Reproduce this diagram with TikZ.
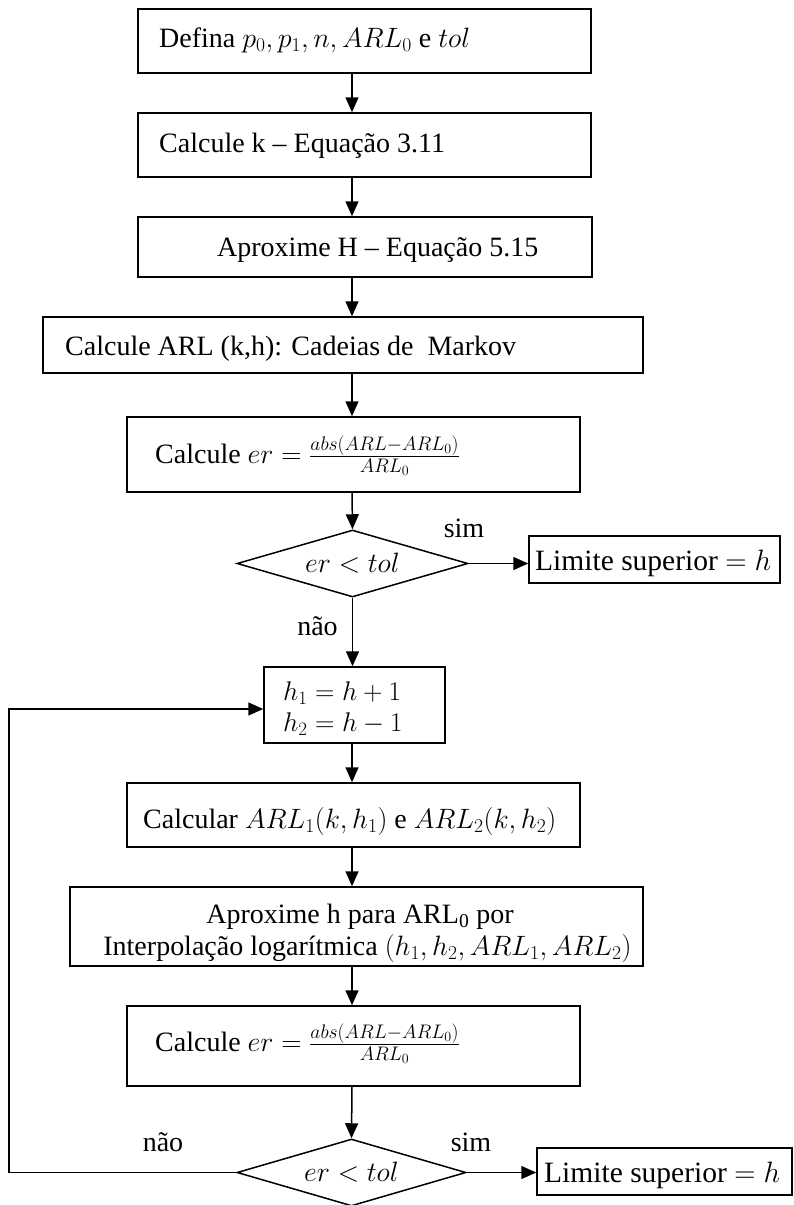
\RequirePackage{fix-cm}
\documentclass[tikz,border=0pt]{standalone}
\usepackage{fontspec}
\setmainfont{Liberation Serif}
\usetikzlibrary{arrows.meta,shapes.geometric}
\begin{document}
\begin{tikzpicture}[x=1pt,y=-1pt,
  box/.style={draw, line width=1.5pt, inner sep=0pt, rectangle},
  dec/.style={draw, line width=1.5pt, inner sep=0pt, diamond, shape aspect=3.4,
    font=\fontsize{28}{34}\selectfont},
  txt/.style={inner sep=0pt, font=\fontsize{28}{34}\selectfont, anchor=base west},
  lbl/.style={inner sep=0pt, font=\fontsize{28}{34}\selectfont},
  limtxt/.style={inner sep=0pt, font=\fontsize{29.5}{36}\selectfont, anchor=base west},
  arr/.style={line width=1.5pt, -{Triangle[length=15pt,width=13pt]}}]
\useasboundingbox (0,0) rectangle (793,1205);
\coordinate (ax) at (352,0);
\coordinate (lx) at (9,0);
% boxes
\node[box, minimum width=453pt, minimum height=64pt] (b1) at (364.5,41) {};
\node[box, minimum width=453pt, minimum height=64pt] (b2) at (364.5,145) {};
\node[box, minimum width=454pt, minimum height=60pt] (b3) at (365,247) {};
\node[box, minimum width=600pt, minimum height=56pt] (b4) at (343,345) {};
\node[box, minimum width=453pt, minimum height=75pt] (b5) at (353.5,454.5) {};
\node[dec, minimum width=231pt, minimum height=67pt] (d1) at (352.5,563.5) {$er<tol$};
\node[box, minimum width=251pt, minimum height=47pt] (L1) at (654.5,559.5) {};
\node[box, minimum width=181pt, minimum height=76pt] (hb) at (354.5,705) {};
\node[box, minimum width=453pt, minimum height=64pt] (b6) at (353.5,815) {};
\node[box, minimum width=573pt, minimum height=79pt] (b7) at (356.5,926.5) {};
\node[box, minimum width=453pt, minimum height=80pt] (b8) at (353.5,1046) {};
\node[dec, minimum width=229pt, minimum height=67pt] (d2) at (351.5,1172.5) {$er<tol$};
\node[box, minimum width=255pt, minimum height=47pt] (L2) at (664.5,1171.5) {};
% texts
\node[txt] (t1) at (159,47) {Defina $p_0, p_1, n, ARL_0$ e $tol$};
\node[txt] (t2) at (159,152) {Calcule k -- Equação 3.11};
\node[txt] (t3) at (217,256) {Aproxime H -- Equação 5.15};
\node[txt] (t4) at (65,355) {Calcule ARL (k,h): Cadeias de\ \ Markov};
\node[txt] (t5) at (155,463) {Calcule $er=\frac{abs(ARL-ARL_0)}{ARL_0}$};
\node[limtxt] (t6) at (535,570) {Limite superior $=h$};
\node[inner sep=0pt, anchor=west, align=left, font=\fontsize{27}{31}\selectfont] (t7) at (283,709) {$h_1=h+1$\\$h_2=h-1$};
\node[txt] (t9) at (143,828) {Calcular $ARL_1(k,h_1)$ e $ARL_2(k,h_2)$};
\node[inner sep=0pt, anchor=center, align=center, font=\fontsize{28}{32}\selectfont] (t10) at (360,933) {Aproxime h para ARL\textsubscript{0} por\\\hspace*{15pt}Interpolação logarítmica $(h_1,h_2,ARL_1,ARL_2)$};
\node[txt] (t12) at (155,1051) {Calcule $er=\frac{abs(ARL-ARL_0)}{ARL_0}$};
\node[limtxt] (t13) at (544,1182) {Limite superior $=h$};
% labels
\node[lbl] (s1) at (464,528) {sim};
\node[lbl] (n1) at (317.5,626) {não};
\node[lbl] (s2) at (471,1142) {sim};
\node[lbl] (n2) at (163,1142) {não};
% connectors
\draw[arr] (b1.south -| ax) -- (b2.north -| ax);
\draw[arr] (b2.south -| ax) -- (b3.north -| ax);
\draw[arr] (b3.south -| ax) -- (b4.north -| ax);
\draw[arr] (b4.south -| ax) -- (b5.north -| ax);
\draw[arr] (b5.south -| ax) -- (d1.north);
\draw[arr] (d1.east) -- (d1.east -| L1.west);
\draw[arr] (d1.south) -- (hb.north -| d1.south);
\draw[arr] (hb.south -| ax) -- (b6.north -| ax);
\draw[arr] (b6.south -| ax) -- (b7.north -| ax);
\draw[arr] (b7.south -| ax) -- (b8.north -| ax);
\draw[arr] (b8.south -| ax) -- (d2.north);
\draw[arr] (d2.east) -- (d2.east -| L2.west);
\draw[arr] (d2.west) -- (d2.west -| lx) |- ([yshift=-4pt]hb.west);
\end{tikzpicture}
\end{document}
